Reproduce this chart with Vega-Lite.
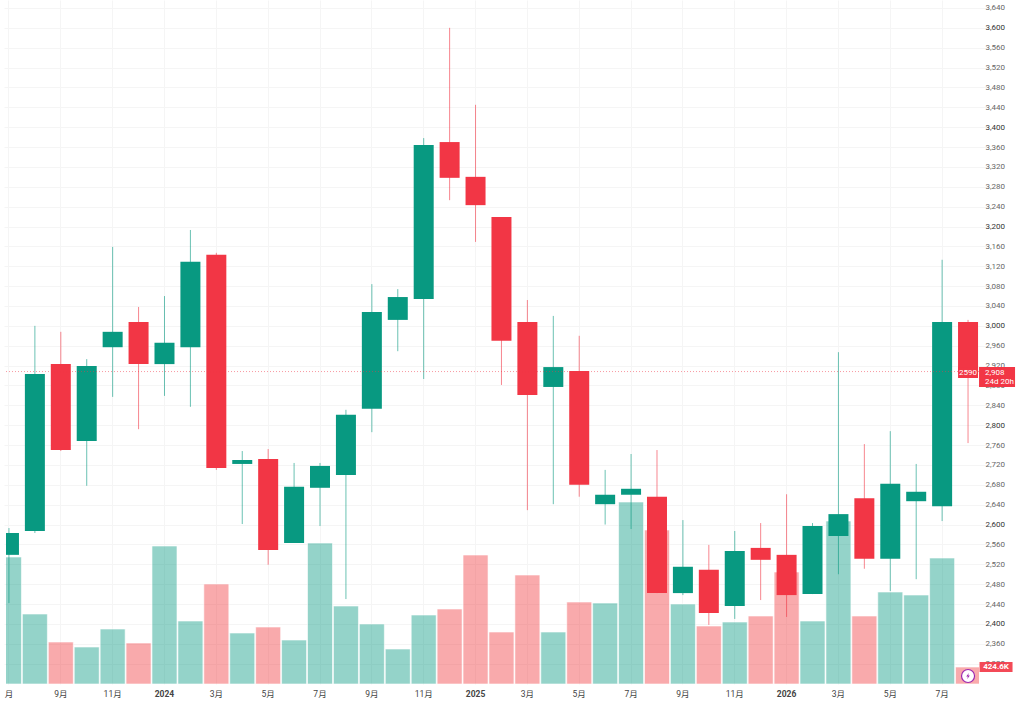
{
  "$schema": "https://vega.github.io/schema/vega-lite/v6.json",
  "autosize": {"type": "none"},
  "padding": {"left": 6, "top": 0, "right": 45, "bottom": 20},
  "width": 973,
  "height": 684,
  "background": "white",
  "config": {"view": {"stroke": "transparent"}},
  "datasets": {
    "months": [
      {"month": "2023-07", "open": 2539, "high": 2593, "low": 2442, "close": 2583, "volume": 3175, "dir": "up"},
      {"month": "2023-08", "open": 2587, "high": 3000, "low": 2583, "close": 2903, "volume": 1750, "dir": "up"},
      {"month": "2023-09", "open": 2923, "high": 2988, "low": 2748, "close": 2750, "volume": 1050, "dir": "down"},
      {"month": "2023-10", "open": 2768, "high": 2933, "low": 2678, "close": 2919, "volume": 925, "dir": "up"},
      {"month": "2023-11", "open": 2957, "high": 3159, "low": 2857, "close": 2988, "volume": 1375, "dir": "up"},
      {"month": "2023-12", "open": 3008, "high": 3038, "low": 2792, "close": 2923, "volume": 1025, "dir": "down"},
      {"month": "2024-01", "open": 2923, "high": 3060, "low": 2859, "close": 2966, "volume": 3450, "dir": "up"},
      {"month": "2024-02", "open": 2957, "high": 3193, "low": 2837, "close": 3129, "volume": 1575, "dir": "up"},
      {"month": "2024-03", "open": 3143, "high": 3147, "low": 2710, "close": 2714, "volume": 2500, "dir": "down"},
      {"month": "2024-04", "open": 2722, "high": 2748, "low": 2601, "close": 2730, "volume": 1275, "dir": "up"},
      {"month": "2024-05", "open": 2732, "high": 2752, "low": 2519, "close": 2549, "volume": 1425, "dir": "down"},
      {"month": "2024-06", "open": 2563, "high": 2724, "low": 2563, "close": 2676, "volume": 1100, "dir": "up"},
      {"month": "2024-07", "open": 2674, "high": 2724, "low": 2597, "close": 2718, "volume": 3525, "dir": "up"},
      {"month": "2024-08", "open": 2700, "high": 2831, "low": 2450, "close": 2821, "volume": 1950, "dir": "up"},
      {"month": "2024-09", "open": 2833, "high": 3084, "low": 2786, "close": 3028, "volume": 1500, "dir": "up"},
      {"month": "2024-10", "open": 3012, "high": 3074, "low": 2949, "close": 3058, "volume": 875, "dir": "up"},
      {"month": "2024-11", "open": 3054, "high": 3378, "low": 2893, "close": 3364, "volume": 1725, "dir": "up"},
      {"month": "2024-12", "open": 3370, "high": 3600, "low": 3253, "close": 3298, "volume": 1875, "dir": "down"},
      {"month": "2025-01", "open": 3300, "high": 3445, "low": 3169, "close": 3243, "volume": 3225, "dir": "down"},
      {"month": "2025-02", "open": 3219, "high": 3219, "low": 2881, "close": 2970, "volume": 1300, "dir": "down"},
      {"month": "2025-03", "open": 3008, "high": 3052, "low": 2629, "close": 2861, "volume": 2725, "dir": "down"},
      {"month": "2025-04", "open": 2877, "high": 3020, "low": 2641, "close": 2917, "volume": 1300, "dir": "up"},
      {"month": "2025-05", "open": 2909, "high": 2980, "low": 2656, "close": 2680, "volume": 2050, "dir": "down"},
      {"month": "2025-06", "open": 2641, "high": 2710, "low": 2600, "close": 2660, "volume": 2025, "dir": "up"},
      {"month": "2025-07", "open": 2660, "high": 2742, "low": 2591, "close": 2672, "volume": 4550, "dir": "up"},
      {"month": "2025-08", "open": 2656, "high": 2750, "low": 2462, "close": 2462, "volume": 3850, "dir": "down"},
      {"month": "2025-09", "open": 2462, "high": 2609, "low": 2458, "close": 2515, "volume": 2000, "dir": "up"},
      {"month": "2025-10", "open": 2509, "high": 2559, "low": 2398, "close": 2422, "volume": 1450, "dir": "down"},
      {"month": "2025-11", "open": 2436, "high": 2587, "low": 2410, "close": 2547, "volume": 1550, "dir": "up"},
      {"month": "2025-12", "open": 2553, "high": 2603, "low": 2448, "close": 2529, "volume": 1700, "dir": "down"},
      {"month": "2026-01", "open": 2539, "high": 2661, "low": 2414, "close": 2458, "volume": 2800, "dir": "down"},
      {"month": "2026-02", "open": 2460, "high": 2603, "low": 2460, "close": 2597, "volume": 1575, "dir": "up"},
      {"month": "2026-03", "open": 2577, "high": 2947, "low": 2500, "close": 2621, "volume": 4075, "dir": "up"},
      {"month": "2026-04", "open": 2653, "high": 2762, "low": 2511, "close": 2531, "volume": 1700, "dir": "down"},
      {"month": "2026-05", "open": 2531, "high": 2788, "low": 2466, "close": 2682, "volume": 2300, "dir": "up"},
      {"month": "2026-06", "open": 2647, "high": 2722, "low": 2490, "close": 2666, "volume": 2225, "dir": "up"},
      {"month": "2026-07", "open": 2637, "high": 3133, "low": 2607, "close": 3008, "volume": 3150, "dir": "up"},
      {"month": "2026-08", "open": 3008, "high": 3012, "low": 2764, "close": 2908, "volume": 424.6, "dir": "down"}
    ],
    "last": [
      {"month": "2026-08", "price": 2908, "volume": 424.6, "priceTop": 2917, "priceBottom": 2877, "countTop": 2917, "countBottom": 2895, "volTop": 550, "volBottom": 300, "markerAt": 200}
    ]
  },
  "encoding": {
    "x": {
      "field": "month",
      "type": "ordinal",
      "title": null,
      "scale": {"type": "band", "range": [-10, 975], "paddingInner": 0, "paddingOuter": 0},
      "axis": {
        "values": ["2023-07", "2023-09", "2023-11", "2024-01", "2024-03", "2024-05", "2024-07", "2024-09", "2024-11", "2025-01", "2025-03", "2025-05", "2025-07", "2025-09", "2025-11", "2026-01", "2026-03", "2026-05", "2026-07"],
        "labelExpr": "datum.value == '2023-07' ? '\u2007月' : (substring(datum.value, 5, 7) == '01' ? substring(datum.value, 0, 4) : toNumber(substring(datum.value, 5, 7)) + '月')",
        "labelAngle": 0,
        "labelFont": "Roboto, Noto Sans CJK SC",
        "labelFontSize": 8.5,
        "labelColor": "#444444",
        "labelFontWeight": {"condition": {"test": "indexof(datum.value, '-01') > 0", "value": "bold"}, "value": "normal"},
        "labelPadding": 5,
        "tickSize": 0,
        "domain": false,
        "grid": true,
        "gridColor": "#f5f5f5",
        "labelOverlap": false
      }
    }
  },
  "layer": [
    {
      "data": {"name": "months"},
      "mark": {"type": "rule", "strokeWidth": 1, "strokeOpacity": 0, "clip": true},
      "encoding": {
        "y": {
          "field": "low",
          "type": "quantitative",
          "title": null,
          "scale": {"domain": [2279, 3656], "nice": false, "zero": false},
          "axis": {
            "orient": "right",
            "values": [2320, 2360, 2400, 2440, 2480, 2520, 2560, 2600, 2640, 2680, 2720, 2760, 2800, 2840, 2880, 2920, 2960, 3000, 3040, 3080, 3120, 3160, 3200, 3240, 3280, 3320, 3360, 3400, 3440, 3480, 3520, 3560, 3600, 3640],
            "format": ",.0f",
            "labelFont": "Roboto",
            "labelFontSize": 8,
            "labelColor": {"condition": {"test": "datum.value % 200 == 0", "value": "#333333"}, "value": "#666666"},
            "labelPadding": 6,
            "tickSize": 0,
            "domain": false,
            "grid": true,
            "gridColor": "#f5f5f5",
            "labelOverlap": false
          }
        }
      }
    },
    {
      "data": {"name": "months"},
      "mark": {"type": "bar", "size": 25, "fillOpacity": 0.43, "stroke": "white", "strokeOpacity": 0.6, "strokeWidth": 1, "clip": true},
      "encoding": {
        "y": {"field": "volume", "type": "quantitative", "axis": null, "scale": {"domain": [0, 17100], "nice": false}},
        "fill": {"field": "dir", "type": "nominal", "legend": null, "scale": {"domain": ["up", "down"], "range": ["#089981", "#f0393f"]}}
      }
    },
    {
      "data": {"name": "last"},
      "mark": {"type": "rule", "strokeWidth": 33, "color": "#f23645", "xOffset": 28, "strokeOpacity": 0.9, "clip": false},
      "encoding": {
        "y": {"field": "volTop", "type": "quantitative", "axis": null, "scale": {"domain": [0, 17100], "nice": false}},
        "y2": {"field": "volBottom"}
      }
    },
    {
      "data": {"name": "last"},
      "mark": {"type": "text", "color": "white", "font": "Roboto", "fontSize": 8, "fontWeight": "bold", "dx": 28},
      "encoding": {
        "y": {"field": "volume", "type": "quantitative", "axis": null, "scale": {"domain": [0, 17100], "nice": false}},
        "text": {"value": "424.6K"}
      }
    },
    {
      "data": {"name": "last"},
      "mark": {"type": "point", "shape": "circle", "size": 170, "filled": true, "fill": "white", "stroke": "#9c27b0", "strokeWidth": 1.2, "opacity": 1},
      "encoding": {
        "y": {"field": "markerAt", "type": "quantitative", "axis": null, "scale": {"domain": [0, 17100], "nice": false}}
      }
    },
    {
      "data": {"name": "last"},
      "mark": {"type": "point", "shape": "M0.25,-1 L-0.6,0.2 L-0.05,0.2 L-0.25,1 L0.6,-0.2 L0.05,-0.2 Z", "size": 36, "filled": true, "fill": "#9c27b0", "stroke": null, "opacity": 1},
      "encoding": {
        "y": {"field": "markerAt", "type": "quantitative", "axis": null, "scale": {"domain": [0, 17100], "nice": false}}
      }
    },
    {
      "data": {"name": "months"},
      "mark": {"type": "rule", "strokeWidth": 1, "strokeOpacity": 0.6, "clip": true},
      "encoding": {
        "y": {"field": "low", "type": "quantitative", "axis": null, "scale": {"domain": [2279, 3656], "nice": false, "zero": false}},
        "y2": {"field": "high"},
        "color": {"field": "dir", "type": "nominal", "legend": null, "scale": {"domain": ["up", "down"], "range": ["#089981", "#f23645"]}}
      }
    },
    {
      "data": {"name": "months"},
      "mark": {"type": "bar", "size": 20, "clip": true},
      "encoding": {
        "y": {"field": "open", "type": "quantitative", "axis": null, "scale": {"domain": [2279, 3656], "nice": false, "zero": false}},
        "y2": {"field": "close"},
        "color": {"field": "dir", "type": "nominal", "legend": null, "scale": {"domain": ["up", "down"], "range": ["#089981", "#f23645"]}}
      }
    },
    {
      "data": {"name": "last"},
      "mark": {"type": "rule", "color": "#f23645", "strokeWidth": 1, "strokeDash": [1, 2], "strokeOpacity": 0.5},
      "encoding": {
        "x": {"value": 0},
        "x2": {"value": 973},
        "y": {"field": "price", "type": "quantitative", "axis": null, "scale": {"domain": [2279, 3656], "nice": false, "zero": false}}
      }
    },
    {
      "data": {"name": "last"},
      "mark": {"type": "rule", "strokeWidth": 20, "color": "#f23645", "clip": false},
      "encoding": {
        "y": {"field": "countTop", "type": "quantitative", "axis": null, "scale": {"domain": [2279, 3656], "nice": false, "zero": false}},
        "y2": {"field": "countBottom"}
      }
    },
    {
      "data": {"name": "last"},
      "mark": {"type": "rule", "strokeWidth": 36, "color": "#f23645", "xOffset": 29, "clip": false},
      "encoding": {
        "y": {"field": "priceTop", "type": "quantitative", "axis": null, "scale": {"domain": [2279, 3656], "nice": false, "zero": false}},
        "y2": {"field": "priceBottom"}
      }
    },
    {
      "data": {"name": "last"},
      "mark": {"type": "text", "color": "white", "font": "Roboto", "fontSize": 8, "align": "center", "dy": 1},
      "encoding": {
        "y": {"field": "price", "type": "quantitative", "axis": null, "scale": {"domain": [2279, 3656], "nice": false, "zero": false}},
        "text": {"value": "2590"}
      }
    },
    {
      "data": {"name": "last"},
      "mark": {"type": "text", "color": "white", "font": "Roboto", "fontSize": 8, "align": "left", "dx": 17, "dy": 1},
      "encoding": {
        "y": {"field": "price", "type": "quantitative", "axis": null, "scale": {"domain": [2279, 3656], "nice": false, "zero": false}},
        "text": {"field": "price", "type": "quantitative", "format": ","}
      }
    },
    {
      "data": {"name": "last"},
      "mark": {"type": "text", "color": "white", "font": "Roboto", "fontSize": 8, "align": "left", "dx": 17, "dy": 10},
      "encoding": {
        "y": {"field": "price", "type": "quantitative", "axis": null, "scale": {"domain": [2279, 3656], "nice": false, "zero": false}},
        "text": {"value": "24d 20h"}
      }
    }
  ],
  "resolve": {"scale": {"y": "independent", "fill": "shared", "color": "shared"}}
}
